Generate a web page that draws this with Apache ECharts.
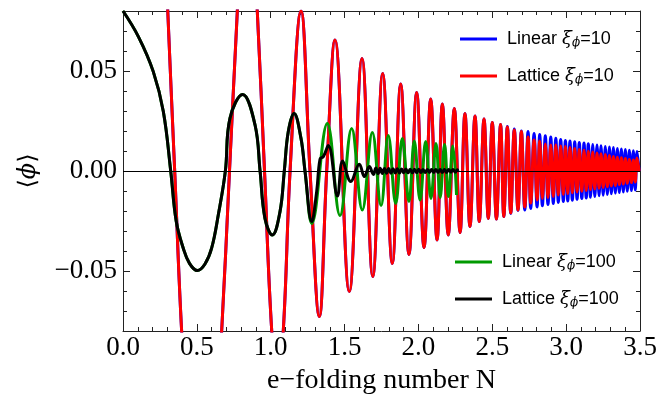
<!DOCTYPE html>
<html><head><meta charset="utf-8">
<script src="https://cdn.jsdelivr.net/npm/echarts@6/dist/echarts.min.js"></script>
<style>html,body{margin:0;padding:0;background:#fff}#c{width:660px;height:400px}</style>
</head><body><div id="c"></div>
<script>
// ---- tick labels ----
const xTickLabels = ['0.0','0.5','1.0','1.5','2.0','2.5','3.0','3.5'];
const yTickValues = [-0.05, 0, 0.05];
const yTickLabels = ['\u22120.05','0.00','0.05'];

// ---- xi = 10 : red (lattice) and blue (linear) share N positions ----
const nRB = [0.18,0.303,0.350,0.397,0.53,0.668,0.721,0.774,0.84,0.909,0.958,1.007,1.046,1.085,1.131,1.205,1.266,1.329,1.379,1.435,
 1.532,1.618,1.691,1.758,1.823,1.880,1.936,1.988,2.038,2.083,2.126,2.162,2.202,2.243,2.282,2.315,2.349,2.383,2.412,2.444,
 2.473,2.500,2.528,2.556,2.578,2.602,2.625,2.649,2.674,2.697,2.720,2.742,2.760,2.783,2.803,2.821,2.839,2.859,2.877,2.896,
 2.913,2.930,2.947,2.963,2.981,2.995,3.011,3.026,3.042,3.058,3.074,3.089,3.106,3.121,3.136,3.150,3.165,3.180,3.194,3.209,
 3.223,3.236,3.251,3.265,3.279,3.293,3.306,3.320,3.333,3.347,3.360,3.374,3.387,3.401,3.414,3.428,3.442,3.455,3.468,3.480,3.494];
const redVals = [0.30,0.08,0,-0.08,-0.25,-0.08,0,0.08,0.17,0.08,0,-0.08,-0.105,-0.08,0,0.080,0,-0.0728,0,0.0655,
 -0.0603,0.0563,-0.0528,0.0488,-0.0462,0.0435,-0.0417,0.0393,-0.0383,0.0360,-0.0345,0.0335,-0.0320,0.0313,-0.0308,0.0288,-0.0278,0.0275,-0.0253,0.0260,
 -0.0237,0.0243,-0.0240,0.0232,-0.0228,0.0220,-0.0210,0.0205,-0.0195,0.0197,-0.0180,0.0170,-0.0160,0.0155,-0.0145,0.0150,-0.0137,0.0135,-0.0132,0.0130,
 -0.0127,0.0130,-0.0120,0.0125,-0.0117,0.0122,-0.0113,0.0118,-0.0109,0.0113,-0.0105,0.0108,-0.0101,0.0104,-0.0097,0.0099,-0.0093,0.0095,-0.0090,0.0090,
 -0.0086,0.0086,-0.0082,0.0082,-0.0079,0.0078,-0.0075,0.0073,-0.0072,0.0069,-0.0068,0.0066,-0.0065,0.0062,-0.0061,0.0058,-0.0058,0.0055,-0.0055,0.0065,0];
const blueVals = [0.30,0.08,0,-0.08,-0.25,-0.08,0,0.08,0.17,0.08,0,-0.08,-0.105,-0.08,0,0.080,0,-0.0728,0,0.0655,
 -0.0603,0.0563,-0.0528,0.0488,-0.0462,0.0435,-0.0417,0.0393,-0.0383,0.0360,-0.0345,0.0335,-0.0320,0.0313,-0.0308,0.0288,-0.0278,0.0275,-0.0253,0.0260,
 -0.0237,0.0243,-0.0240,0.0232,-0.0228,0.0222,-0.0212,0.0210,-0.0197,0.0200,-0.0195,0.0197,-0.0187,0.0187,-0.0180,0.0182,-0.0174,0.0176,-0.0168,0.0170,
 -0.0162,0.0164,-0.0157,0.0158,-0.0153,0.0153,-0.0150,0.0150,-0.0146,0.0146,-0.0142,0.0143,-0.0138,0.0140,-0.0135,0.0136,-0.0131,0.0133,-0.0128,0.0130,
 -0.0124,0.0126,-0.0121,0.0123,-0.0117,0.0120,-0.0114,0.0117,-0.0111,0.0113,-0.0108,0.0110,-0.0105,0.0107,-0.0101,0.0104,-0.0098,0.0101,-0.0095,0.0098,0];

// ---- xi = 100 : lattice (black) ----
const nBlack = [0,0.104,0.205,0.273,0.323,0.360,0.408,0.450,0.503,0.555,0.600,0.645,0.693,0.724,0.810,0.894,0.928,0.961,1.011,1.063,1.092,
 1.119,1.158,1.205,1.232,1.278,1.311,1.334,1.356,1.390,1.452,1.487,1.542,1.600,1.634,1.668,1.695,
 1.712,1.727,1.741,1.756,1.770,1.785,1.799,1.814,1.828,1.843,1.857,1.872,1.886,1.901,1.915,1.930,1.944,1.959,1.973,1.988,
 2.002,2.017,2.031,2.046,2.060,2.075,2.089,2.104,2.118,2.133,2.147,2.162,2.176,2.191,2.205,2.220,2.234,2.249,2.263,2.268];
const blackVals = [0.080,0.0672,0.0497,0.0297,0,-0.025,-0.0386,-0.0462,-0.0498,-0.0465,-0.0386,-0.022,0,0.0263,0.0383,0.023,0,-0.0237,-0.032,-0.0203,0,
 0.0197,0.0288,0.0163,0,-0.0253,-0.0103,0.0060,0.0072,0.0127,-0.0125,0.0050,-0.0053,0.0034,-0.0028,0.0022,-0.0017,
 0.0015,-0.0013,0.0014,-0.0012,0.0013,-0.0011,0.0012,-0.0011,0.0011,-0.0010,0.0011,-0.0010,0.0010,-0.0009,0.0010,-0.0009,0.0009,-0.0009,0.0009,-0.0008,
 0.0009,-0.0008,0.0008,-0.0008,0.0008,-0.0007,0.0008,-0.0007,0.0008,-0.0007,0.0007,-0.0007,0.0007,-0.0007,0.0007,-0.0006,0.0007,-0.0006,0.0006,0];

// ---- xi = 100 : linear (green) ----
const nGreen = [0,0.104,0.205,0.273,0.323,0.360,0.408,0.450,0.503,0.555,0.600,0.645,0.693,0.724,0.810,0.894,0.928,0.961,1.011,1.063,1.092,
 1.119,1.158,1.205,1.232,1.278,1.383,1.469,1.548,1.620,1.688,1.747,1.796,1.846,1.891,1.936,1.972,2.011,2.049,2.085,2.119,
 2.147,2.177,2.203,2.233,2.258];
const greenVals = [0.080,0.0672,0.0497,0.0297,0,-0.025,-0.0386,-0.0462,-0.0498,-0.0465,-0.0386,-0.022,0,0.0263,0.0383,0.023,0,-0.0237,-0.032,-0.0203,0,
 0.0197,0.0288,0.0163,0,-0.0262,0.0238,-0.0223,0.0213,-0.0195,0.0193,-0.0173,0.0177,-0.0162,0.0163,-0.0153,0.0150,-0.0145,0.0147,-0.0137,0.0138,
 -0.0132,0.0133,-0.0128,0.0125,-0.0120];

const seriesNames = ['Linear \u03be\u03d5=10','Lattice \u03be\u03d5=10','Linear \u03be\u03d5=100','Lattice \u03be\u03d5=100'];
const zip = (a,b) => a.map((v,i)=>[v,b[i]]);

const chart = echarts.init(document.getElementById('c'), null, {renderer:'canvas'});
const axisCol = '#222';
const serif = 'Liberation Serif';
const baseX = {
  type:'value', min:0, max:3.5, interval:0.5,
  axisLine:{show:true,onZero:false,lineStyle:{color:axisCol,width:1}},
  axisTick:{show:true,inside:true,length:7,lineStyle:{color:axisCol}},
  minorTick:{show:true,splitNumber:5,length:4,lineStyle:{color:axisCol}},
  splitLine:{show:false}
};
const yMajor = (pos, labels) => ({
  type:'value', min:-0.08, max:0.08, position:pos,
  axisLine:{show:true,onZero:false,lineStyle:{color:axisCol,width:1}},
  axisTick:{show:true,inside:true,length:7,customValues:yTickValues,lineStyle:{color:axisCol}},
  axisLabel:{show:labels,customValues:yTickValues,margin:6,color:'#000',fontFamily:serif,fontSize:27,
    formatter:v=>{const i=yTickValues.findIndex(t=>Math.abs(t-v)<1e-9);return i>=0?yTickLabels[i]:'';}},
  splitLine:{show:false}
});
const yMinor = pos => ({
  type:'value', min:-0.08, max:0.08, interval:0.01, position:pos,
  axisLine:{show:false,onZero:false},
  axisTick:{show:true,inside:true,length:4,lineStyle:{color:axisCol}},
  axisLabel:{show:false}, splitLine:{show:false}
});
const legendRich = {
  xi:{fontFamily:'DejaVu Serif',fontStyle:'italic',fontSize:18,lineHeight:20},
  sub:{fontFamily:'DejaVu Serif',fontStyle:'italic',fontSize:12,lineHeight:12,verticalAlign:'bottom'}
};
const legendFmt = name => {
  const p = name.split(' ');
  const num = p[1].split('=')[1];
  return p[0] + ' {xi|\u03be}{sub|\u03d5}=' + num;
};
const mkLegend = (names, top, left) => ({
  data:names, orient:'vertical', left:left, top:top, padding:0, icon:'rect', itemWidth:37, itemHeight:3,
  itemGap:17, selectedMode:false, formatter:legendFmt,
  textStyle:{fontFamily:'Liberation Sans',fontSize:18,color:'#000',lineHeight:20,padding:[0,0,0,5],rich:legendRich}
});
const mkSeries = (name, data, color, extra) => Object.assign({
  name, type:'line', data, xAxisIndex:0, yAxisIndex:0, smooth:0.4, showSymbol:false, symbol:'none',
  clip:true, color, lineStyle:{color,width:3}, emphasis:{disabled:true}, animation:false
}, extra||{});

chart.setOption({
  animation:false,
  backgroundColor:'#fff',
  grid:{left:123,right:20,top:11,bottom:69,containLabel:false},
  xAxis:[
    Object.assign({}, baseX, {position:'bottom',
      axisLabel:{show:true,margin:3,color:'#000',fontFamily:serif,fontSize:27,formatter:v=>xTickLabels[Math.round(v/0.5)]},
      name:'e\u2212folding number N', nameLocation:'middle', nameGap:36,
      nameTextStyle:{fontFamily:serif,fontSize:28,color:'#000'}}),
    Object.assign({}, baseX, {position:'top',axisLabel:{show:false}})
  ],
  yAxis:[
    Object.assign(yMajor('left',true), {name:'{a|\u27e8}{b|\u03d5}{a|\u27e9}', nameLocation:'middle', nameGap:82,
      nameTextStyle:{fontFamily:serif,fontSize:26,color:'#000',
        rich:{a:{fontFamily:'DejaVu Serif',fontSize:24},b:{fontFamily:'DejaVu Serif',fontStyle:'italic',fontSize:24}}}}),
    yMinor('left'),
    yMajor('right',false),
    yMinor('right')
  ],
  legend:[
    mkLegend([seriesNames[0],seriesNames[1]], 29, 460),
    mkLegend([seriesNames[2],seriesNames[3]], 252, 455)
  ],
  series:[
    mkSeries(seriesNames[0], zip(nRB, blueVals), '#0000ff'),
    mkSeries(seriesNames[1], zip(nRB, redVals), '#ff0000'),
    mkSeries(seriesNames[2], zip(nGreen, greenVals), '#009a00'),
    mkSeries(seriesNames[3], zip(nBlack, blackVals), '#000000', {
      markLine:{silent:true,symbol:['none','none'],label:{show:false},animation:false,
        lineStyle:{color:'#000',width:1,type:'solid'},emphasis:{disabled:true},data:[{yAxis:0}]}
    })
  ]
});
</script></body></html>
